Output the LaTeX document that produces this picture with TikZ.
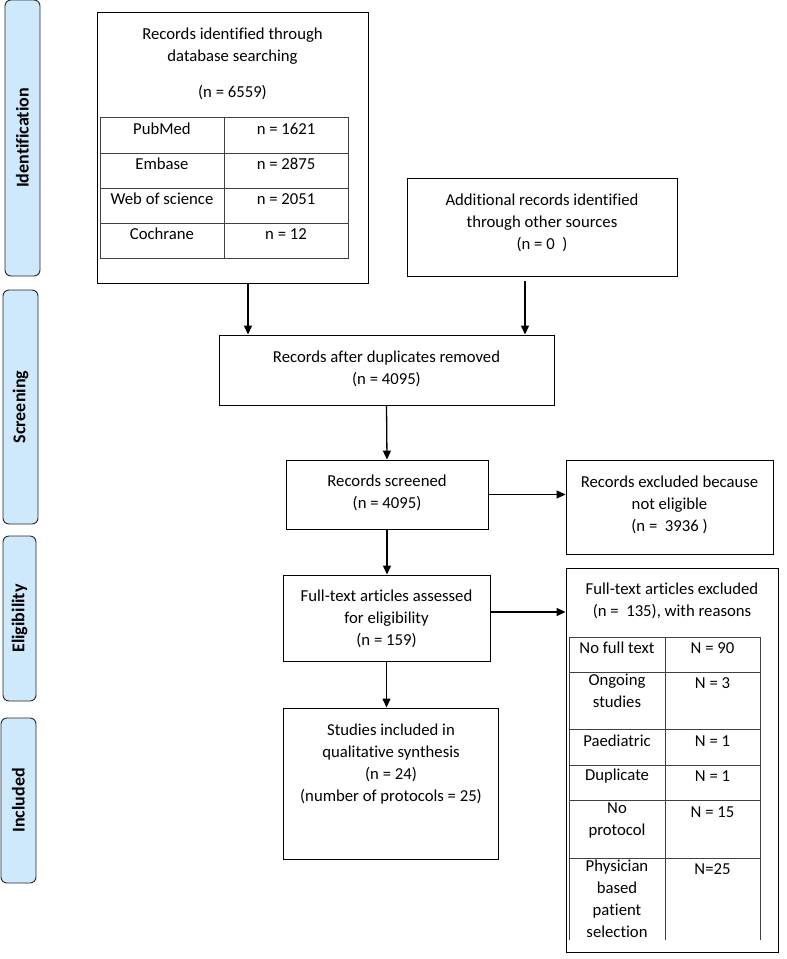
\documentclass[tikz,border=0pt]{standalone}
\usepackage{fontspec}
\setmainfont[Ligatures={NoCommon}]{Carlito}
\usetikzlibrary{arrows.meta}
\definecolor{phaseblue}{RGB}{206,232,252}
\begin{document}
\begin{tikzpicture}[x=1pt,y=-1pt,
 box/.style={draw=black, line width=0.9pt, rectangle, inner sep=0pt},
 txt/.style={align=center, font=\fontsize{16.7}{22}\selectfont, inner sep=0pt},
 arr/.style={-{Triangle[length=9pt,width=8pt]}, line width=1.3pt},
 phase/.style={draw=black!85, fill=phaseblue, rounded corners=6pt, line width=0.9pt, inner sep=0pt},
 phasetxt/.style={rotate=90, font=\fontsize{18}{20}\selectfont\bfseries, inner sep=0pt},
 tline/.style={draw=black!75, line width=0.7pt}]
\useasboundingbox (0,0) rectangle (787,959);

% phase labels
\node[phase, minimum width=35pt, minimum height=276pt] (pid) at (22.5,138) {};
\node[phasetxt] (tid) at (pid.center) {Identification};
\node[phase, minimum width=35pt, minimum height=234pt] (psc) at (20.5,407) {};
\node[phasetxt] (tsc) at (psc.center) {Screening};
\node[phase, minimum width=33pt, minimum height=165pt] (pel) at (19.5,618.5) {};
\node[phasetxt] (tel) at (pel.center) {Eligibility};
\node[phase, minimum width=35pt, minimum height=165pt] (pin) at (18.5,800.5) {};
\node[phasetxt] (tin) at (pin.center) {Included};

% box 1
\node[box, minimum width=271pt, minimum height=271pt] (b1) at (232.5,147.5) {};
\node[txt] (t1a) at (232.5,46) {Records identified through\\database searching};
\node[txt] (t1b) at (232.5,93) {(n = 6559)};
\draw[tline] (100,117) rectangle (348,258);
\draw[tline] (100,153) -- (348,153) (100,188) -- (348,188) (100,223) -- (348,223) (224,117) -- (224,258);
\node[txt] (c11) at (162,129) {PubMed};
\node[txt] (c12) at (286,129) {n = 1621};
\node[txt] (c21) at (162,164) {Embase};
\node[txt] (c22) at (286,164) {n = 2875};
\node[txt] (c31) at (162,199) {Web of science};
\node[txt] (c32) at (286,199) {n = 2051};
\node[txt] (c41) at (162,234) {Cochrane};
\node[txt] (c42) at (286,234) {n = 12};

% box 2
\node[box, minimum width=270pt, minimum height=98pt] (b2) at (542,227) {};
\node[txt] (t2) at (542,223) {Additional records identified\\through other sources\\(n = 0\ \ )};

% box 3
\node[box, minimum width=335pt, minimum height=70pt] (b3) at (386.5,370) {};
\node[txt] (t3) at (386.5,369) {Records after duplicates removed\\(n = 4095)};

% box 4
\node[box, minimum width=202pt, minimum height=69pt] (b4) at (387,494.5) {};
\node[txt] (t4) at (387,493) {Records screened\\(n = 4095)};

% box 5
\node[box, minimum width=207pt, minimum height=94pt] (b5) at (669.5,507) {};
\node[txt] (t5) at (669.5,504.5) {Records excluded because\\not eligible\\(n = \ 3936 )};

% box 6
\node[box, minimum width=207pt, minimum height=86pt] (b6) at (386.5,618) {};
\node[txt] (t6) at (386.5,619) {Full-text articles assessed\\for eligibility\\(n = 159)};

% box 8
\node[box, minimum width=215pt, minimum height=151pt] (b8) at (390.5,783.5) {};
\node[txt] (t8) at (391,764.5) {Studies included in\\qualitative synthesis\\(n = 24)\\(number of protocols = 25)};

% box 7
\node[box, minimum width=212pt, minimum height=384pt] (b7) at (672,760) {};
\node[txt] (t7) at (672,601) {Full-text articles excluded\\(n = \ 135), with reasons};
\draw[tline] (569,940) -- (569,637) -- (760,637) -- (760,940);
\draw[tline] (665,637) -- (665,940);
\draw[tline] (569,672) -- (760,672) (569,729) -- (760,729) (569,765) -- (760,765) (569,800) -- (760,800) (569,858) -- (760,858);
\node[txt] (r1a) at (617,648) {No full text};
\node[txt] (r1b) at (712.5,648) {N = 90};
\node[txt, anchor=north] (r2a) at (617,674) {Ongoing\\studies};
\node[txt] (r2b) at (712.5,683) {N = 3};
\node[txt] (r3a) at (617,741) {Paediatric};
\node[txt] (r3b) at (712.5,741) {N = 1};
\node[txt] (r4a) at (617,776) {Duplicate};
\node[txt] (r4b) at (712.5,776) {N = 1};
\node[txt, anchor=north] (r5a) at (617,803) {No\\protocol};
\node[txt] (r5b) at (712.5,812) {N = 15};
\node[txt, anchor=north] (r6a) at (617,860) {Physician\\based\\patient\\selection};
\node[txt] (r6b) at (712.5,869) {N=25};

% arrows
\draw[arr] ([xshift=15.5pt]b1.south) -- ([xshift=15.5pt]b1.south |- b3.north);
\draw[arr] ([xshift=-17pt,yshift=-5pt]b2.south) -- ([xshift=-17pt]b2.south |- b3.north);
\draw[arr] (b3.south) -- (b4.north);
\draw[arr] (b4.east) -- (b4.east -| b5.west);
\draw[arr] (b4.south) -- (b4.south |- b6.north);
\draw[arr] ([yshift=6pt]b6.east) -- ([yshift=6pt]b6.east -| b7.west);
\draw[arr] (b6.south) -- (b6.south |- b8.north);
\end{tikzpicture}
\end{document}
